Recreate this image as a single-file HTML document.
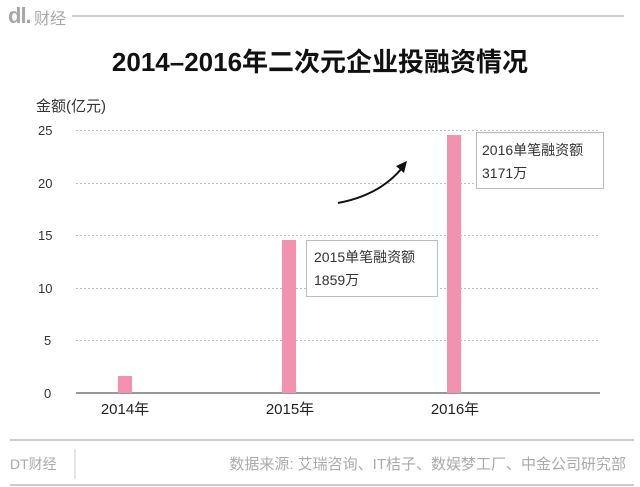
<!DOCTYPE html>
<html><head><meta charset="utf-8"><style>
body{margin:0;width:640px;height:487px;background:#fff;overflow:hidden;font-family:"Liberation Sans","Noto Sans CJK SC",sans-serif;position:relative}
.a{position:absolute;white-space:nowrap}
</style></head><body>
<div class="a" style="left:8px;top:3px;font-size:22px;font-weight:bold;color:#a8a8a8;letter-spacing:-1px">dl.</div>
<div class="a" style="left:34px;top:5px;font-size:16px;color:#a8a8a8">财经</div>
<div class="a" style="left:0;top:42px;width:640px;text-align:center;font-size:26px;font-weight:bold;color:#111">2014–2016年二次元企业投融资情况</div>
<div class="a" style="left:36px;top:95px;font-size:15px;color:#333">金额(亿元)</div>
<svg class="a" style="left:0;top:0" width="640" height="487">
<g stroke="#bbb" stroke-dasharray="2,2" stroke-width="1">
<line x1="76" x2="600" y1="130.5" y2="130.5"/><line x1="76" x2="600" y1="183.5" y2="183.5"/>
<line x1="76" x2="600" y1="235.5" y2="235.5"/><line x1="76" x2="600" y1="288.5" y2="288.5"/>
<line x1="76" x2="600" y1="340.5" y2="340.5"/></g>
<line x1="76" x2="600" y1="393" y2="393" stroke="#777" stroke-width="1.5"/>
<g fill="#f291b0"><rect x="118" y="376" width="14" height="17"/><rect x="282" y="240" width="14" height="153"/><rect x="447" y="135" width="14" height="258"/></g>
<rect x="306.5" y="240.5" width="131" height="56" fill="#fff" stroke="#bbb"/>
<rect x="476.5" y="132.5" width="127" height="56" fill="#fff" stroke="#bbb"/>
<path d="M338 203 Q380 195 402 168" fill="none" stroke="#111" stroke-width="2"/>
<path d="M407 161 L396 166 L404 173 Z" fill="#111"/>
<g font-size="13" fill="#333"><text x="38" y="135">25</text><text x="38" y="188">20</text><text x="38" y="240">15</text><text x="38" y="293">10</text><text x="44" y="345">5</text><text x="44" y="398">0</text></g>
<g font-size="15" fill="#222" text-anchor="middle"><text x="125" y="414">2014年</text><text x="290" y="414">2015年</text><text x="455" y="414">2016年</text></g>
<g font-size="14" fill="#333"><text x="314" y="262">2015单笔融资额</text><text x="314" y="285">1859万</text><text x="482" y="155">2016单笔融资额</text><text x="482" y="178">3171万</text></g>
<line x1="10" x2="634" y1="440" y2="440" stroke="#999"/>
<line x1="10" x2="634" y1="485" y2="485" stroke="#999"/>
<line x1="75" x2="75" y1="449" y2="479" stroke="#ccc"/>
<text x="10" y="469" font-size="14" fill="#aaa">DT财经</text>
<text x="626" y="469" font-size="15" fill="#aaa" text-anchor="end">数据来源: 艾瑞咨询、IT桔子、数娱梦工厂、中金公司研究部</text>
<line x1="72" x2="624" y1="16" y2="16" stroke="#999"/>
</svg>
</body></html>
